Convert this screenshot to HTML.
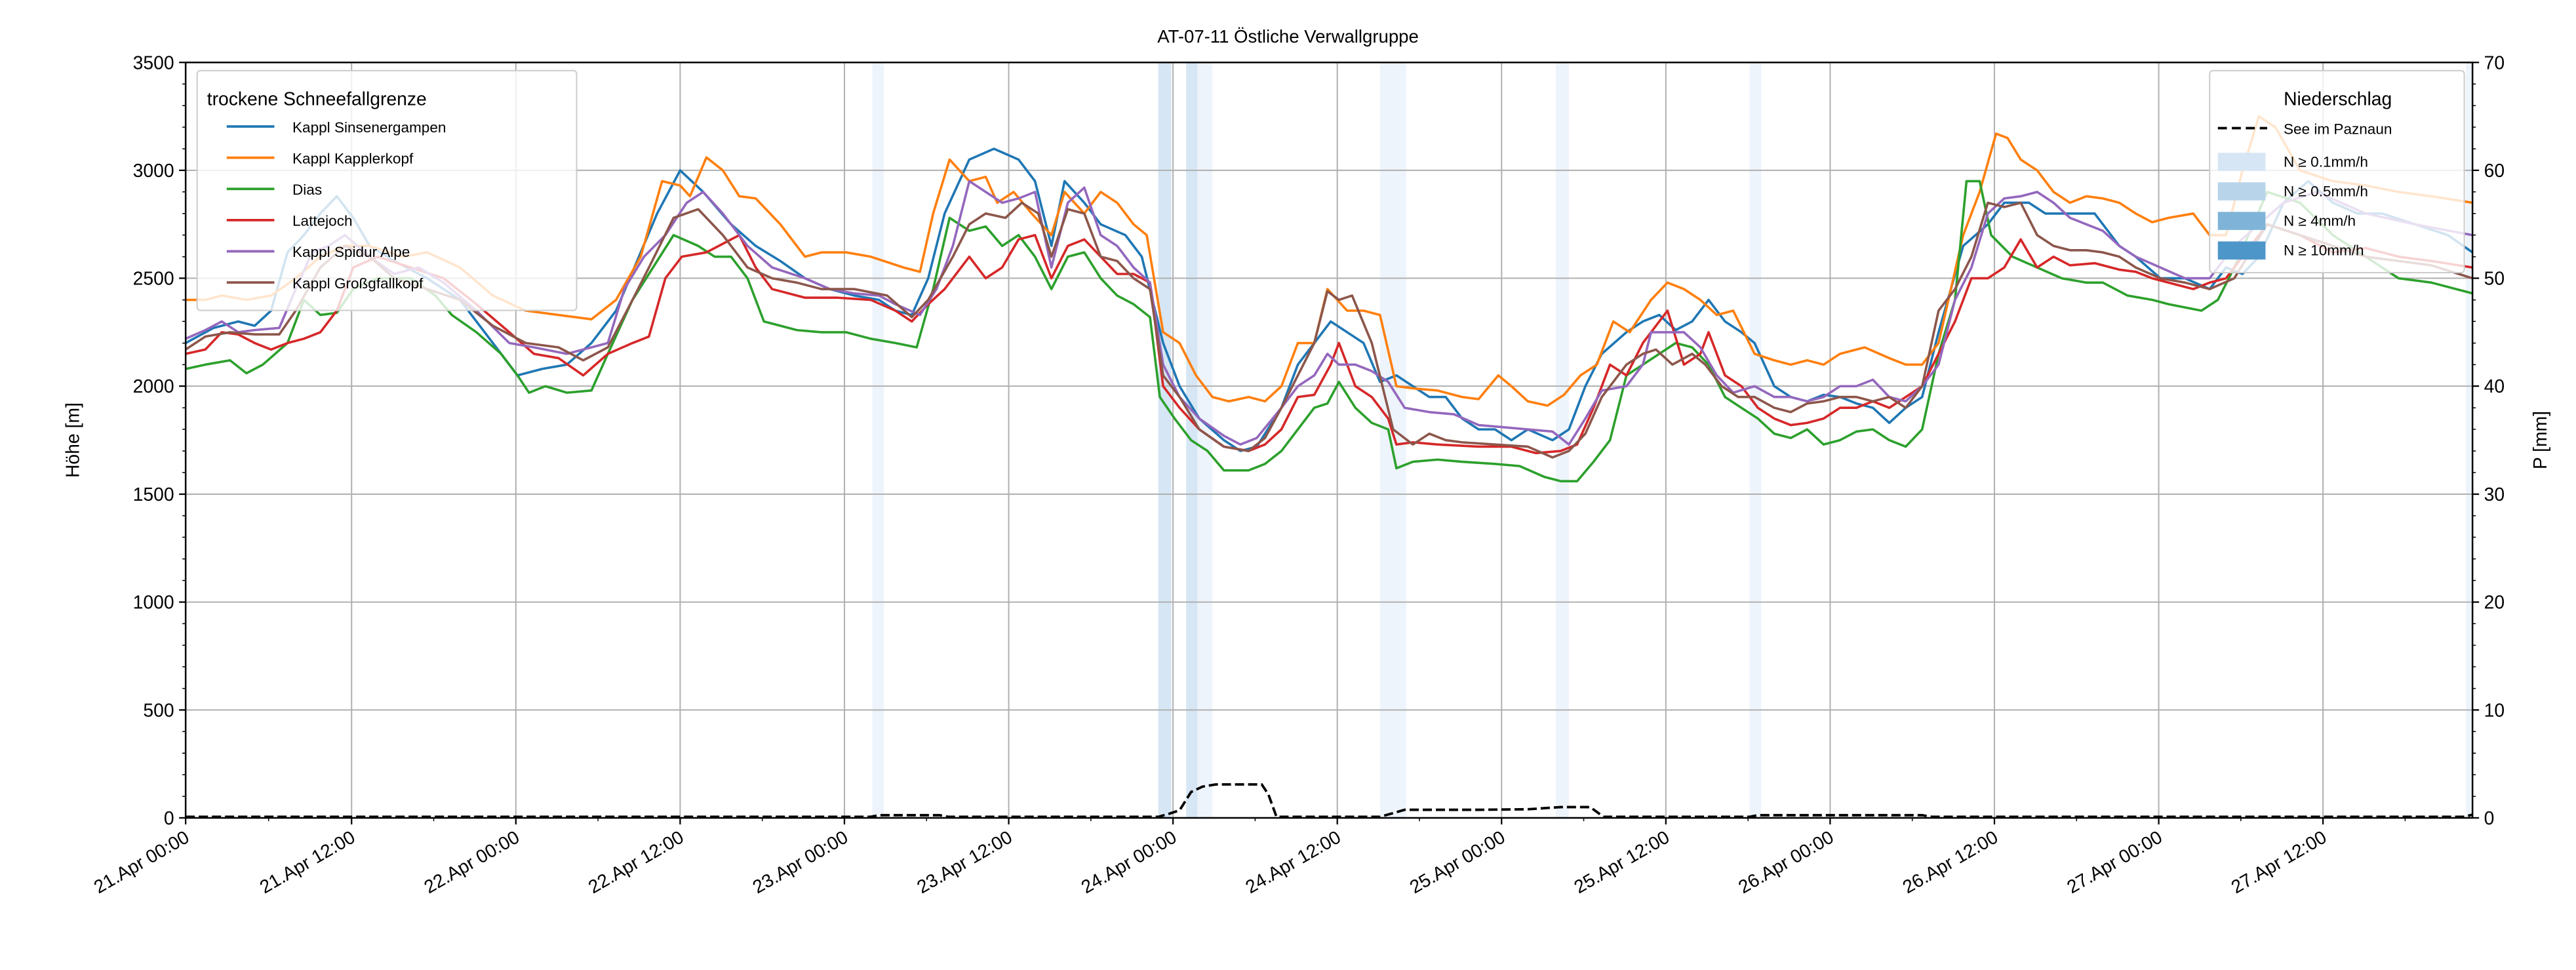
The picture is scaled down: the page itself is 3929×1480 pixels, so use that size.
<!DOCTYPE html>
<html><head><meta charset="utf-8"><style>
html,body{margin:0;padding:0;background:#fff;}
svg{display:block;font-family:"Liberation Sans","DejaVu Sans",sans-serif;}
.s{fill:none;stroke-width:3.6;stroke-linejoin:round;}
</style></head><body>
<svg width="3929" height="1480" viewBox="0 0 1568 590.6" xmlns="http://www.w3.org/2000/svg">
<rect width="1568" height="590.6" fill="#fff"/>
<g>
<rect x="531" y="38" width="7" height="460" fill="#eef4fb"/>
<rect x="705" y="38" width="8" height="460" fill="#d6e6f4"/>
<rect x="722" y="38" width="7" height="460" fill="#d6e6f4"/>
<rect x="729" y="38" width="9" height="460" fill="#eef4fb"/>
<rect x="840" y="38" width="16" height="460" fill="#eef4fb"/>
<rect x="947" y="38" width="8" height="460" fill="#eef4fb"/>
<rect x="1065" y="38" width="7" height="460" fill="#eef4fb"/>
<rect x="1501" y="38" width="4" height="460" fill="#eef4fb"/>
</g>
<g stroke="#b0b0b0" stroke-width="0.8">
<line x1="113" x2="1505" y1="103.7" y2="103.7"/><line x1="113" x2="1505" y1="169.4" y2="169.4"/>
<line x1="113" x2="1505" y1="235.1" y2="235.1"/><line x1="113" x2="1505" y1="300.9" y2="300.9"/>
<line x1="113" x2="1505" y1="366.6" y2="366.6"/><line x1="113" x2="1505" y1="432.3" y2="432.3"/>
<line x1="214" x2="214" y1="38" y2="498"/><line x1="314" x2="314" y1="38" y2="498"/>
<line x1="414" x2="414" y1="38" y2="498"/><line x1="514" x2="514" y1="38" y2="498"/>
<line x1="614" x2="614" y1="38" y2="498"/><line x1="714" x2="714" y1="38" y2="498"/>
<line x1="814" x2="814" y1="38" y2="498"/><line x1="914" x2="914" y1="38" y2="498"/>
<line x1="1014" x2="1014" y1="38" y2="498"/><line x1="1114" x2="1114" y1="38" y2="498"/>
<line x1="1214" x2="1214" y1="38" y2="498"/><line x1="1314" x2="1314" y1="38" y2="498"/>
<line x1="1414" x2="1414" y1="38" y2="498"/>
</g>
<g transform="translate(0,498) scale(1,-0.131429)">
<polyline class="s" vector-effect="non-scaling-stroke" stroke="#1f77b4" points="113,2200 130,2270 145,2300 155,2280 165,2350 175,2620 185,2700 195,2800 205,2880 215,2780 225,2650 240,2580 260,2500 280,2400 300,2200 315,2050 330,2080 345,2100 360,2200 375,2350 390,2620 400,2800 414,3000 428,2900 445,2750 460,2650 475,2580 490,2500 505,2450 520,2420 535,2400 545,2350 555,2330 565,2500 575,2800 590,3050 605,3100 620,3050 630,2950 640,2650 648,2950 660,2850 670,2750 685,2700 695,2600 708,2200 718,2000 730,1850 745,1750 755,1700 765,1720 780,1900 790,2100 800,2200 810,2300 820,2250 830,2200 840,2020 850,2050 860,2000 870,1950 880,1950 890,1850 900,1800 910,1800 920,1750 930,1800 945,1750 955,1800 965,2000 975,2150 990,2250 1000,2300 1010,2330 1020,2260 1030,2300 1040,2400 1050,2300 1060,2250 1068,2200 1080,2000 1090,1950 1100,1930 1110,1960 1120,1950 1130,1920 1140,1900 1150,1830 1160,1900 1170,1950 1180,2250 1195,2650 1210,2750 1220,2850 1235,2850 1245,2800 1260,2800 1275,2800 1290,2650 1300,2600 1315,2500 1330,2500 1345,2450 1355,2550 1365,2520 1375,2600 1390,2850 1405,2950 1420,2850 1435,2800 1450,2800 1470,2750 1490,2700 1505,2620"/>
<polyline class="s" vector-effect="non-scaling-stroke" stroke="#ff7f0e" points="113,2400 125,2400 135,2420 150,2400 165,2420 180,2500 195,2600 210,2650 225,2650 245,2600 260,2620 280,2550 300,2420 320,2350 340,2330 360,2310 375,2400 390,2600 403,2950 414,2930 420,2880 430,3060 440,3000 450,2880 460,2870 475,2750 490,2600 500,2620 515,2620 530,2600 550,2550 560,2530 568,2800 578,3050 590,2950 600,2970 607,2850 617,2900 628,2800 640,2700 648,2900 660,2800 670,2900 680,2850 690,2750 698,2700 708,2250 718,2200 728,2050 738,1950 748,1930 760,1950 770,1930 780,2000 790,2200 800,2200 808,2450 820,2350 830,2350 840,2330 850,2000 860,1990 875,1980 890,1950 900,1940 912,2050 920,2000 930,1930 942,1910 952,1960 962,2050 972,2100 982,2300 992,2250 1005,2400 1015,2480 1025,2450 1035,2400 1045,2330 1055,2350 1068,2150 1080,2120 1090,2100 1100,2120 1110,2100 1120,2150 1135,2180 1150,2130 1160,2100 1170,2100 1180,2200 1195,2700 1205,2900 1215,3170 1222,3150 1230,3050 1240,3000 1250,2900 1260,2850 1270,2880 1280,2870 1290,2850 1300,2800 1310,2760 1320,2780 1335,2800 1345,2700 1355,2700 1365,3000 1375,3250 1385,3200 1400,3000 1420,2950 1440,2930 1460,2900 1480,2880 1505,2850"/>
<polyline class="s" vector-effect="non-scaling-stroke" stroke="#2ca02c" points="113,2080 125,2100 140,2120 150,2060 160,2100 175,2200 185,2400 195,2330 205,2340 215,2450 230,2500 250,2500 265,2420 275,2330 290,2250 305,2150 315,2050 322,1970 332,2000 345,1970 360,1980 370,2150 385,2400 395,2520 410,2700 425,2650 435,2600 445,2600 455,2500 465,2300 475,2280 485,2260 500,2250 515,2250 530,2220 545,2200 558,2180 568,2450 578,2780 590,2720 600,2740 610,2650 620,2700 630,2600 640,2450 650,2600 660,2620 670,2500 680,2420 690,2380 700,2320 706,1950 715,1850 725,1750 735,1700 745,1610 760,1610 770,1640 780,1700 790,1800 800,1900 808,1920 815,2020 825,1900 835,1830 845,1800 850,1620 860,1650 875,1660 890,1650 910,1640 925,1630 940,1580 950,1560 960,1560 970,1650 980,1750 990,2050 1000,2100 1010,2150 1020,2200 1030,2180 1040,2100 1050,1950 1060,1900 1070,1850 1080,1780 1090,1760 1100,1800 1110,1730 1120,1750 1130,1790 1140,1800 1150,1750 1160,1720 1170,1800 1180,2150 1190,2400 1197,2950 1205,2950 1212,2700 1225,2600 1240,2550 1255,2500 1270,2480 1280,2480 1295,2420 1310,2400 1320,2380 1340,2350 1350,2400 1360,2550 1380,2900 1400,2850 1420,2700 1440,2600 1460,2500 1480,2480 1505,2430"/>
<polyline class="s" vector-effect="non-scaling-stroke" stroke="#d62728" points="113,2150 125,2170 135,2250 145,2240 155,2200 165,2170 175,2200 185,2220 195,2250 205,2350 215,2550 230,2600 250,2550 270,2500 290,2380 310,2250 325,2150 340,2130 355,2050 370,2150 385,2200 395,2230 405,2500 415,2600 430,2620 450,2700 460,2550 470,2450 480,2430 490,2410 510,2410 530,2400 545,2350 555,2300 565,2380 575,2450 590,2600 600,2500 610,2550 620,2680 630,2700 640,2500 650,2650 660,2680 670,2600 680,2520 690,2520 700,2480 708,2000 718,1900 730,1800 745,1720 760,1700 770,1730 780,1800 790,1950 800,1960 810,2100 815,2200 825,2000 835,1950 845,1850 850,1730 860,1740 875,1730 900,1720 920,1720 935,1690 950,1700 960,1730 970,1900 980,2100 990,2050 1000,2200 1010,2300 1015,2350 1025,2100 1035,2150 1040,2250 1050,2050 1060,2000 1070,1900 1080,1850 1090,1820 1100,1830 1110,1850 1120,1900 1130,1900 1140,1930 1150,1900 1160,1950 1170,2000 1180,2150 1190,2300 1200,2500 1210,2500 1220,2550 1230,2680 1240,2550 1250,2600 1260,2560 1275,2570 1290,2540 1300,2530 1310,2500 1325,2470 1335,2450 1345,2480 1355,2500 1380,2750 1400,2700 1420,2620 1440,2640 1460,2600 1480,2580 1505,2550"/>
<polyline class="s" vector-effect="non-scaling-stroke" stroke="#9467bd" points="113,2220 125,2260 135,2300 145,2250 155,2260 170,2270 180,2450 190,2620 200,2650 210,2700 225,2600 240,2520 255,2550 270,2480 290,2350 310,2200 325,2180 345,2150 360,2180 370,2200 380,2450 392,2600 405,2700 418,2850 428,2900 440,2800 455,2650 470,2550 490,2500 505,2450 520,2430 535,2420 545,2380 560,2330 570,2450 580,2650 590,2950 600,2900 610,2850 620,2870 630,2900 640,2550 650,2850 660,2920 670,2700 680,2650 690,2550 700,2480 708,2100 718,1950 730,1850 745,1770 755,1730 765,1760 780,1900 790,2000 800,2050 808,2150 815,2100 825,2100 835,2070 845,2020 855,1900 870,1880 885,1870 900,1820 915,1810 930,1800 945,1790 955,1730 965,1850 975,1980 990,2000 1000,2100 1005,2250 1015,2250 1025,2250 1035,2180 1045,2050 1055,1970 1068,2000 1080,1950 1090,1950 1100,1930 1110,1950 1120,2000 1130,2000 1140,2030 1150,1950 1160,1930 1170,2000 1180,2100 1190,2400 1200,2550 1210,2800 1220,2870 1230,2880 1240,2900 1250,2850 1260,2780 1270,2750 1280,2720 1290,2650 1300,2600 1315,2550 1330,2500 1345,2500 1360,2650 1390,2850 1410,2900 1440,2800 1470,2750 1505,2700"/>
<polyline class="s" vector-effect="non-scaling-stroke" stroke="#8c564b" points="113,2170 125,2230 140,2250 155,2240 170,2240 180,2350 195,2550 210,2650 225,2600 240,2500 260,2450 280,2400 300,2280 320,2200 340,2180 355,2120 370,2180 385,2400 395,2550 410,2780 425,2820 440,2700 455,2550 470,2500 485,2480 500,2450 520,2450 540,2420 555,2320 565,2400 580,2600 590,2750 600,2800 612,2780 622,2850 632,2800 640,2600 650,2820 660,2800 670,2600 680,2580 690,2500 700,2450 708,2050 718,1950 730,1800 745,1720 760,1700 770,1760 780,1900 790,2050 800,2200 808,2440 815,2400 823,2420 835,2200 848,1800 860,1730 870,1780 880,1750 890,1740 910,1730 930,1720 945,1670 955,1700 965,1780 975,1950 990,2100 1000,2150 1008,2170 1018,2100 1030,2150 1038,2100 1048,2000 1058,1950 1068,1950 1080,1900 1090,1880 1100,1920 1110,1930 1120,1950 1130,1950 1140,1930 1150,1950 1160,1900 1170,2000 1180,2350 1190,2450 1200,2600 1210,2850 1220,2830 1230,2850 1240,2700 1250,2650 1260,2630 1270,2630 1280,2620 1290,2600 1300,2550 1315,2500 1330,2480 1345,2450 1360,2500 1380,2750 1400,2700 1420,2650 1440,2600 1460,2580 1480,2560 1505,2500"/>
</g>
<g transform="translate(0,498) scale(1,-6.571)">
<polyline fill="none" stroke="#000" stroke-width="3.8" stroke-dasharray="14,6" vector-effect="non-scaling-stroke" points="113,0.1 530,0.1 535,0.25 572,0.25 577,0.1 705,0.1 712,0.4 718,0.7 725,2.4 732,2.9 740,3.1 768,3.1 772,2.2 777,0.1 840,0.1 847,0.4 855,0.75 900,0.75 930,0.8 950,1.0 968,1.0 976,0.1 1065,0.1 1070,0.25 1170,0.25 1176,0.1 1500,0.1 1505,0.3"/>
</g>
<rect x="113" y="38" width="1392" height="460" fill="none" stroke="#000" stroke-width="1"/>
<g stroke="#000" stroke-width="0.9">
<path d="M113,498h-4M113,432.3h-4M113,366.6h-4M113,300.9h-4M113,235.1h-4M113,169.4h-4M113,103.7h-4M113,38h-4"/>
<path stroke-width="0.6" d="M113,484.9h-2M113,471.7h-2M113,458.6h-2M113,445.4h-2M113,419.2h-2M113,406h-2M113,392.9h-2M113,379.7h-2M113,353.4h-2M113,340.3h-2M113,327.1h-2M113,314h-2M113,287.7h-2M113,274.6h-2M113,261.4h-2M113,248.3h-2M113,222h-2M113,208.9h-2M113,195.7h-2M113,182.6h-2M113,156.3h-2M113,143.1h-2M113,130h-2M113,116.8h-2M113,90.6h-2M113,77.4h-2M113,64.3h-2M113,51.1h-2"/>
<path d="M1505,498h4M1505,432.3h4M1505,366.6h4M1505,300.9h4M1505,235.1h4M1505,169.4h4M1505,103.7h4M1505,38h4"/>
<path stroke-width="0.6" d="M1505,484.9h2M1505,471.7h2M1505,458.6h2M1505,445.4h2M1505,419.2h2M1505,406h2M1505,392.9h2M1505,379.7h2M1505,353.4h2M1505,340.3h2M1505,327.1h2M1505,314h2M1505,287.7h2M1505,274.6h2M1505,261.4h2M1505,248.3h2M1505,222h2M1505,208.9h2M1505,195.7h2M1505,182.6h2M1505,156.3h2M1505,143.1h2M1505,130h2M1505,116.8h2M1505,90.6h2M1505,77.4h2M1505,64.3h2M1505,51.1h2"/>
<path d="M113,498v4M214,498v4M314,498v4M414,498v4M514,498v4M614,498v4M714,498v4M814,498v4M914,498v4M1014,498v4M1114,498v4M1214,498v4M1314,498v4M1414,498v4"/>
<path stroke-width="0.6" d="M163.5,498v2M264,498v2M364,498v2M464,498v2M564,498v2M664,498v2M764,498v2M864,498v2M964,498v2M1064,498v2M1164,498v2M1264,498v2M1364,498v2M1464,498v2"/>
</g>
<g font-size="11.3" fill="#000">
<g text-anchor="end">
<text x="106" y="502">0</text><text x="106" y="436.3">500</text><text x="106" y="370.6">1000</text><text x="106" y="304.9">1500</text><text x="106" y="239.1">2000</text><text x="106" y="173.4">2500</text><text x="106" y="107.7">3000</text><text x="106" y="42">3500</text>
</g>
<g>
<text x="1512" y="502">0</text><text x="1512" y="436.3">10</text><text x="1512" y="370.6">20</text><text x="1512" y="304.9">30</text><text x="1512" y="239.1">40</text><text x="1512" y="173.4">50</text><text x="1512" y="107.7">60</text><text x="1512" y="42">70</text>
</g>
<g text-anchor="end">
<text transform="translate(116,512) rotate(-30)">21.Apr 00:00</text>
<text transform="translate(217,512) rotate(-30)">21.Apr 12:00</text>
<text transform="translate(317,512) rotate(-30)">22.Apr 00:00</text>
<text transform="translate(417,512) rotate(-30)">22.Apr 12:00</text>
<text transform="translate(517,512) rotate(-30)">23.Apr 00:00</text>
<text transform="translate(617,512) rotate(-30)">23.Apr 12:00</text>
<text transform="translate(717,512) rotate(-30)">24.Apr 00:00</text>
<text transform="translate(817,512) rotate(-30)">24.Apr 12:00</text>
<text transform="translate(917,512) rotate(-30)">25.Apr 00:00</text>
<text transform="translate(1017,512) rotate(-30)">25.Apr 12:00</text>
<text transform="translate(1117,512) rotate(-30)">26.Apr 00:00</text>
<text transform="translate(1217,512) rotate(-30)">26.Apr 12:00</text>
<text transform="translate(1317,512) rotate(-30)">27.Apr 00:00</text>
<text transform="translate(1417,512) rotate(-30)">27.Apr 12:00</text>
</g>
<text transform="translate(48,268) rotate(-90)" text-anchor="middle">Höhe [m]</text>
<text transform="translate(1550,268) rotate(-90)" text-anchor="middle">P [mm]</text>
<text x="784" y="26" text-anchor="middle" font-size="11">AT-07-11 Östliche Verwallgruppe</text>
</g>
<g>
<rect x="120" y="43" width="231" height="146" rx="2" fill="#fff" fill-opacity="0.8" stroke="#cccccc" stroke-width="0.8"/>
<text x="126" y="64" font-size="11.3">trockene Schneefallgrenze</text>
<g stroke-width="1.5">
<line x1="138" x2="167" y1="77" y2="77" stroke="#1f77b4"/>
<line x1="138" x2="167" y1="96" y2="96" stroke="#ff7f0e"/>
<line x1="138" x2="167" y1="115" y2="115" stroke="#2ca02c"/>
<line x1="138" x2="167" y1="134" y2="134" stroke="#d62728"/>
<line x1="138" x2="167" y1="153" y2="153" stroke="#9467bd"/>
<line x1="138" x2="167" y1="172" y2="172" stroke="#8c564b"/>
</g>
<g font-size="9">
<text x="178" y="80.5">Kappl Sinsenergampen</text>
<text x="178" y="99.5">Kappl Kapplerkopf</text>
<text x="178" y="118.5">Dias</text>
<text x="178" y="137.5">Lattejoch</text>
<text x="178" y="156.5">Kappl Spidur Alpe</text>
<text x="178" y="175.5">Kappl Großgfallkopf</text>
</g>
</g>
<g>
<rect x="1345" y="43" width="155" height="123" rx="2" fill="#fff" fill-opacity="0.8" stroke="#cccccc" stroke-width="0.8"/>
<text x="1423" y="64" font-size="11.3" text-anchor="middle">Niederschlag</text>
<line x1="1350" x2="1380" y1="78" y2="78" stroke="#000" stroke-width="1.5" stroke-dasharray="5.5,3"/>
<rect x="1350" y="93" width="29" height="11" fill="#d6e6f4"/>
<rect x="1350" y="111" width="29" height="11" fill="#b8d4ea"/>
<rect x="1350" y="129" width="29" height="11" fill="#7fb4d8"/>
<rect x="1350" y="147" width="29" height="11" fill="#4d96c9"/>
<g font-size="9">
<text x="1390" y="81.5">See im Paznaun</text>
<text x="1390" y="101.5">N ≥ 0.1mm/h</text>
<text x="1390" y="119.5">N ≥ 0.5mm/h</text>
<text x="1390" y="137.5">N ≥ 4mm/h</text>
<text x="1390" y="155.5">N ≥ 10mm/h</text>
</g>
</g>
</svg>
</body></html>
